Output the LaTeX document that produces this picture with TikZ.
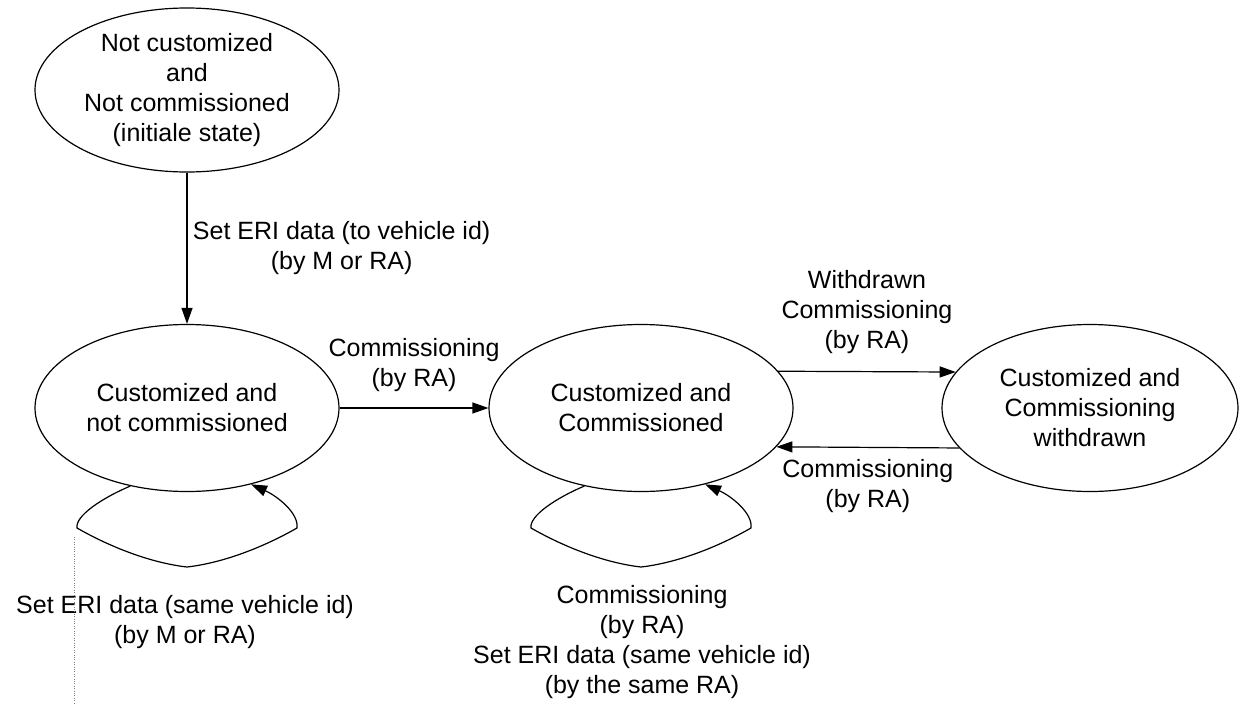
\documentclass[tikz,border=0pt]{standalone}
\usepackage{fontspec}
\setmainfont{Liberation Sans}
\usetikzlibrary{arrows.meta, shapes.geometric}

\begin{document}

\begin{tikzpicture}[x = 1pt, y = -1pt,
	every node/.style = {font = \fontsize{25}{30}\selectfont, align = center},
	state/.style = {draw, ellipse, line width = 1.2pt, inner sep = 0pt, minimum width = 304pt, minimum height = 167pt},
	trans/.style = {line width = 1.2pt, -{Triangle[length = 16pt, width = 11pt]}}]

	\useasboundingbox (0, 0) rectangle (1239, 704);

	% States
	
	\node [state, minimum height = 164pt] (init) at (187, 90) {Not customized\\and\\Not commissioned\\(initiale state)};
	\node [state] (cnc) at (187, 408) {Customized and\\not commissioned};
	\node [state] (cc) at (641, 408) {Customized and\\Commissioned};
	\node [state, minimum width = 296pt] (ccw) at (1090, 408) {Customized and\\Commissioning\\withdrawn};
	
	% Transitions
	
	\draw [trans] (init) -- node [midway, right = 2pt] {Set ERI data (to vehicle id)\\(by M or RA)} (cnc);
	\draw [trans] (cnc) -- node [midway, above = 12pt] {Commissioning\\(by RA)} (cc);
	\draw [trans] (cc.15) -- node [midway, above = 14pt] {Withdrawn\\Commissioning\\(by RA)} (ccw.165);
	\draw [trans] (ccw.197) -- node [midway, below = 8pt] {Commissioning\\(by RA)} (cc.344);
	
	% Self loops
	
	\begin{scope}[shift = {(cnc.center)}]
		\draw [trans] (cnc.234) .. controls (-85, 90) and (-112, 108) .. (-110, 120)
			.. controls (-75, 140) and (-35, 155) .. (0, 159)
			.. controls (35, 155) and (75, 140) .. (110, 120)
			.. controls (112, 105) and (90, 88) .. (cnc.310);
	\end{scope}
	
	\begin{scope}[shift = {(cc.center)}]
		\draw [trans] (cc.234) .. controls (-85, 90) and (-112, 108) .. (-110, 120)
			.. controls (-75, 140) and (-35, 155) .. (0, 159)
			.. controls (35, 155) and (75, 140) .. (110, 120)
			.. controls (112, 105) and (90, 88) .. (cc.310);
	\end{scope}
	
	\node (cncloop) at (185, 622) {Set ERI data (same vehicle id)\\(by M or RA)};
	\node (ccloop) at (642, 642) {Commissioning\\(by RA)\\Set ERI data (same vehicle id)\\(by the same RA)};
	
	% Dotted guide
	
	\draw [dotted, gray] (74, 537) -- (74, 704);
	
\end{tikzpicture}

\end{document}
